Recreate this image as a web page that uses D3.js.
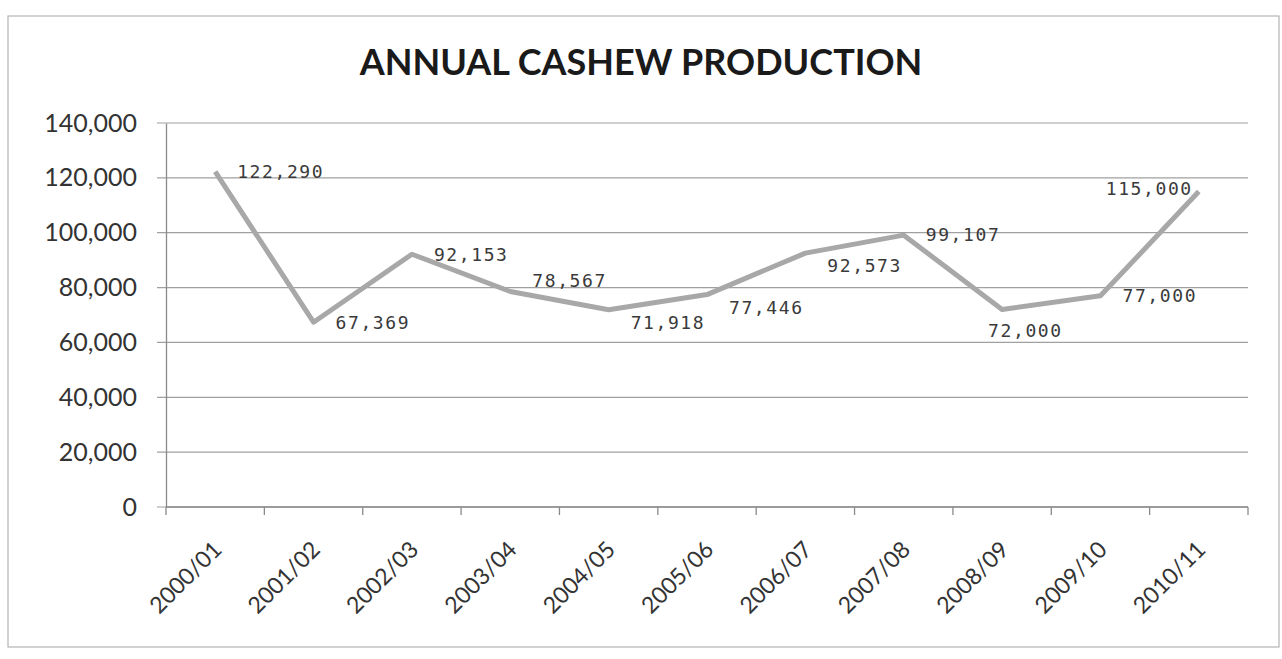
<!DOCTYPE html>
<html>
<head>
<meta charset="utf-8">
<script src="https://cdn.jsdelivr.net/npm/d3@7"></script>
<style>
body { margin: 0; background: #fff; }
</style>
</head>
<body>
<div id="chart"></div>
<script>
var w = 1282,
h = 659;

//Data
var seasons = ["2000/01","2001/02","2002/03","2003/04","2004/05","2005/06","2006/07","2007/08","2008/09","2009/10","2010/11"];
var production = [122290, 67369, 92153, 78567, 71918, 77446, 92573, 99107, 72000, 77000, 115000];
var yTicks = [0, 20000, 40000, 60000, 80000, 100000, 120000, 140000];

//where each value label sits next to its point
var labelPlace = ["r","r","r","ra","rb","rb","rb","r","b","r","l"];

var margin = {left: 166, right: 34, top: 123, bottom: 152};

var svg = d3.select("#chart")
.append("svg")
.attr("width", w)
.attr("height", h);

//outer frame
svg.append("rect")
.attr("x", 8)
.attr("y", 16)
.attr("width", 1271)
.attr("height", 631)
.attr("fill", "none")
.attr("stroke", "#b5b5b5")
.attr("stroke-width", 1.2);

var x = d3.scaleBand()
.domain(seasons)
.range([margin.left, w - margin.right])
.padding(0);

var y = d3.scaleLinear()
.domain([0, 140000])
.range([h - margin.bottom, margin.top]);

//gridlines
svg.append("g")
.selectAll("line")
.data(yTicks)
.enter()
.append("line")
.attr("x1", margin.left - 9)
.attr("x2", w - margin.right)
.attr("y1", function(d){ return y(d); })
.attr("y2", function(d){ return y(d); })
.attr("stroke", "#a0a0a0")
.attr("stroke-width", 1.2);

//y axis
var yAxis = svg.append("g")
.attr("transform", "translate(" + margin.left + ",0)")
.call(d3.axisLeft(y).tickValues(yTicks).tickSize(0).tickPadding(29).tickFormat(d3.format(",")));
yAxis.select(".domain").attr("stroke", "#8a8a8a").attr("stroke-width", 1.3);
yAxis.selectAll("text")
.attr("font-family", "Lato, 'Open Sans', sans-serif")
.attr("font-size", "25px")
.attr("fill", "#333");

//x axis line + ticks at category borders
var xEdges = seasons.map(function(d){ return x(d); }).concat([x.range()[1]]);
svg.append("line")
.attr("x1", margin.left)
.attr("x2", w - margin.right)
.attr("y1", y(0))
.attr("y2", y(0))
.attr("stroke", "#8a8a8a")
.attr("stroke-width", 1.3);
svg.append("g")
.selectAll("line")
.data(xEdges)
.enter()
.append("line")
.attr("x1", function(d){ return d; })
.attr("x2", function(d){ return d; })
.attr("y1", y(0))
.attr("y2", y(0) + 8)
.attr("stroke", "#8a8a8a")
.attr("stroke-width", 1.3);

//x labels
svg.append("g")
.selectAll("text")
.data(seasons)
.enter()
.append("text")
.attr("transform", function(d){ return "translate(" + (x(d) + x.bandwidth()/2 + 8) + "," + (y(0) + 44) + ") rotate(-45)"; })
.attr("text-anchor", "end")
.attr("font-family", "Lato, 'Open Sans', sans-serif")
.attr("font-size", "23px")
.attr("fill", "#333")
.text(function(d){ return d; });

//the line
var line = d3.line()
.x(function(d, i){ return x(seasons[i]) + x.bandwidth()/2; })
.y(function(d){ return y(d); });

svg.append("path")
.datum(production)
.attr("d", line)
.attr("fill", "none")
.attr("stroke", "#a8a8a8")
.attr("stroke-width", 5)
.attr("stroke-linejoin", "round");

//value labels
svg.append("g")
.selectAll("text")
.data(production)
.enter()
.append("text")
.attr("x", function(d, i){
  var cx = x(seasons[i]) + x.bandwidth()/2;
  var p = labelPlace[i];
  if (p == "l") return cx - 6;
  if (p == "b") return cx - 14;
  return cx + 22;
})
.attr("y", function(d, i){
  var p = labelPlace[i];
  var off = p == "rb" ? 13 : (p == "ra" ? -11 : (p == "l" ? -3 : (p == "b" ? 21 : 0)));
  return y(d) + off;
})
.attr("dy", "0.35em")
.attr("text-anchor", function(d, i){ return labelPlace[i] == "l" ? "end" : "start"; })
.attr("font-family", "'DejaVu Sans Mono', monospace")
.attr("font-size", "18px")
.attr("letter-spacing", "1.6px")
.attr("fill", "#3a3a3a")
.text(function(d){ return d3.format(",")(d); });

//title
svg.append("text")
.attr("x", 641)
.attr("y", 75)
.attr("text-anchor", "middle")
.attr("font-family", "Lato, 'Open Sans', sans-serif")
.attr("font-weight", "bold")
.attr("font-size", "36px")
.attr("fill", "#1a1a1a")
.text("ANNUAL CASHEW PRODUCTION");
</script>
</body>
</html>
